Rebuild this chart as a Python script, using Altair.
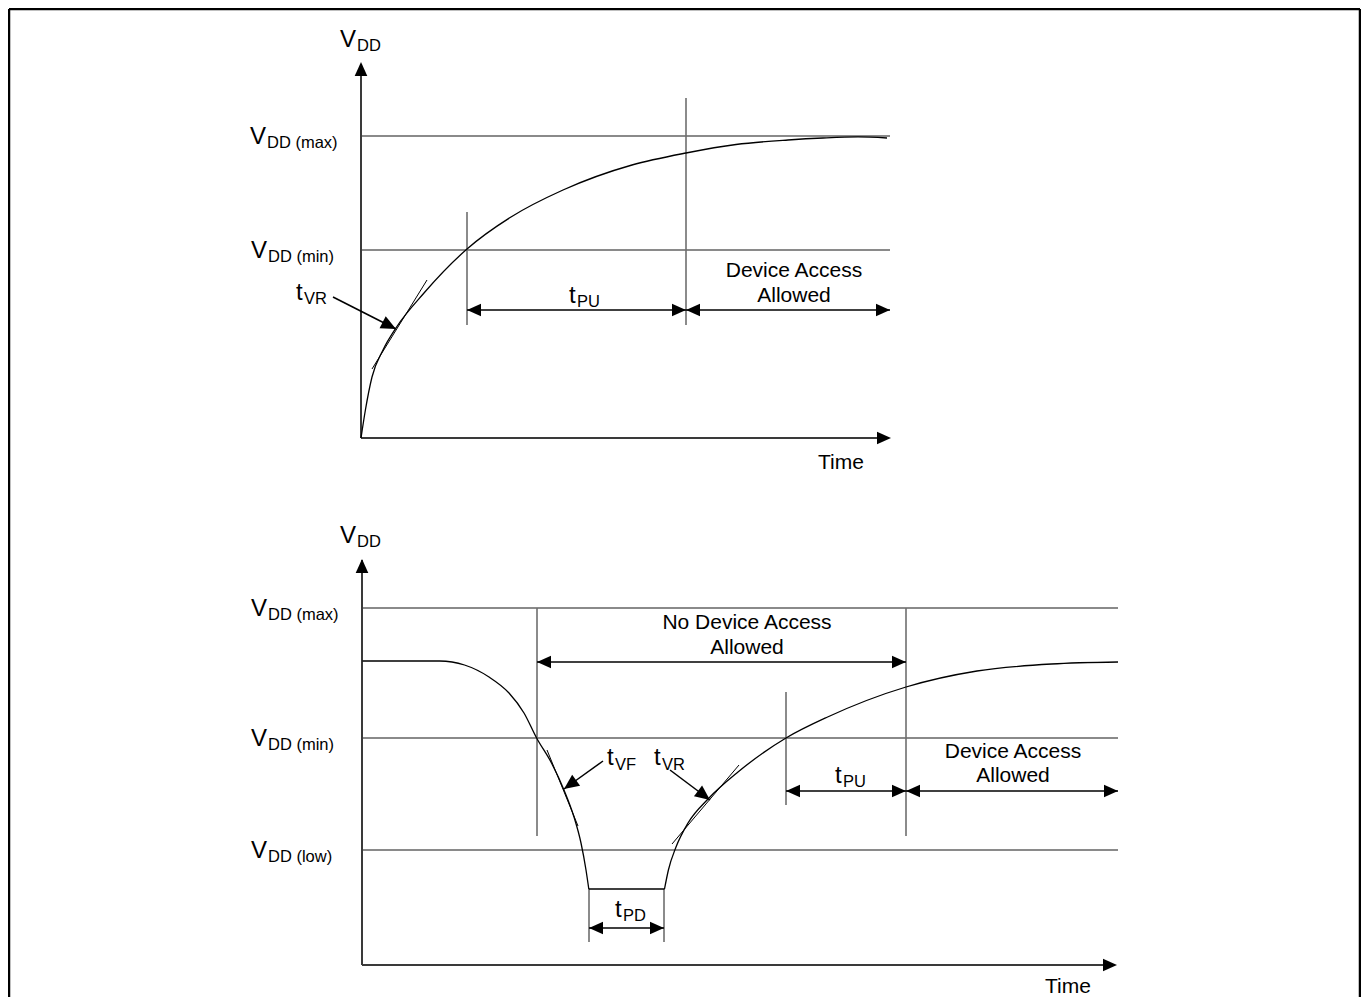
import altair as alt
import pandas as pd

FONT = "Liberation Sans"

# ---------------- data (page-pixel coordinates of the diagram) ----------------
# Top panel power-up curve
top_curve_x = [361, 365.4, 372, 383, 396.6, 424, 467, 511, 563, 632, 686, 736, 788, 823, 858, 887]
top_curve_y = [438, 410, 377, 350, 327, 293, 249, 217, 190, 165, 153, 144.5, 140, 138, 136.9, 138]

# Bottom panel: fall, power-down flat, rise
fall_x = [362.5, 439.6, 464.5, 489, 509, 524, 536.6, 551.5, 564, 574, 581, 586, 588.8]
fall_y = [661, 661, 665, 677, 693, 713, 738, 763, 790, 817, 843, 870, 889]
flat_x = [588.8, 664.5]
flat_y = [889, 889]
rise_x = [664.5, 668.4, 676, 688, 709, 738, 786, 827.6, 906, 977, 1051.5, 1118]
rise_y = [889, 870, 847, 823, 798, 772, 738, 717, 687, 671, 664, 662]

# Level lines (VDD max/min/low)
level_x1 = [361, 361, 362, 362, 362]
level_x2 = [890, 890, 1118, 1118, 1118]
level_y = [136, 250, 608, 738, 850]

# Axis lines
axis_x1 = [361, 361, 362, 362]
axis_y1 = [64, 438, 560, 965]
axis_x2 = [361, 885, 362, 1112]
axis_y2 = [438, 438, 965, 965]

# Vertical marker lines
vert_x = [467, 686, 537, 906, 786, 589, 664]
vert_y1 = [212, 98, 608, 608, 692, 889, 889]
vert_y2 = [325, 325, 836, 836, 805, 942, 942]

# Dimension / pointer arrow shafts
arr_x1 = [467, 686, 333, 537, 786, 906, 589, 603, 670]
arr_y1 = [310, 310, 297, 662, 791, 791, 928, 761, 770]
arr_x2 = [686, 890, 396, 906, 906, 1118, 664, 564, 710]
arr_y2 = [310, 310, 329, 662, 791, 791, 928, 789, 800]

# Tangent lines (slew rate)
tan_x1 = [372, 547, 672]
tan_y1 = [369, 750, 844]
tan_x2 = [427, 578, 739]
tan_y2 = [280, 826, 765]

# Arrowheads: tip position and direction angle (deg, clockwise from +x)
head_x = [361, 891, 362, 1117,
          467, 686, 686, 890,
          537, 906, 786, 906, 906, 1118, 589, 664]
head_y = [62, 438, 559, 965,
          310, 310, 310, 310,
          662, 662, 791, 791, 791, 791, 928, 928]
head_angle = [270, 0, 270, 0,
              180, 0, 180, 0,
              180, 0, 180, 0, 180, 0, 180, 0]
diag_head_x = [396, 564, 710]
diag_head_y = [329, 789, 800]
diag_head_angle = [27, 144, 37]

# Text: main letters
main_text = ["V", "V", "V", "t", "t", "V", "V", "V", "V", "t", "t", "t", "t"]
main_x = [340, 250, 251, 296, 569, 340, 251, 251, 251, 607, 654, 835, 615]
main_y = [47, 144, 258, 300, 303, 543, 616, 746, 858, 765, 765, 783, 917]
# Text: subscripts
sub_text = ["DD", "DD (max)", "DD (min)", "VR", "PU", "DD", "DD (max)", "DD (min)",
            "DD (low)", "VF", "VR", "PU", "PD"]
sub_x = [357, 267, 268, 304, 577, 357, 268, 268, 268, 615, 662, 843, 623]
sub_y = [51, 148, 262, 304, 307, 547, 620, 750, 862, 770, 770, 787, 921]
# Text: centred captions
cap_text = ["Device Access", "Allowed", "Time", "No Device Access", "Allowed",
            "Device Access", "Allowed", "Time"]
cap_x = [794, 794, 841, 747, 747, 1013, 1013, 1068]
cap_y = [277, 302, 469, 629, 654, 758, 782, 993]

# Frame (outer border)
frame_x1 = [9, 9, 1360]
frame_y1 = [9, 9, 9]
frame_x2 = [9, 1360, 1360]
frame_y2 = [997, 9, 997]

# ---------------- chart ----------------
W, H = 1353, 989
xs = alt.Scale(domain=[8, 8 + W], nice=False, zero=False)
ys = alt.Scale(domain=[8, 8 + H], nice=False, zero=False, reverse=True)


def seg_layer(x1, y1, x2, y2, color, width):
    df = pd.DataFrame({"x": x1, "y": y1, "x2": x2, "y2": y2})
    return alt.Chart(df).mark_rule(color=color, strokeWidth=width).encode(
        x=alt.X("x:Q", scale=xs, axis=None),
        y=alt.Y("y:Q", scale=ys, axis=None),
        x2="x2:Q",
        y2="y2:Q",
    )


frame = seg_layer(frame_x1, frame_y1, frame_x2, frame_y2, "#000000", 2.5)
levels = seg_layer(level_x1, level_y, level_x2, level_y, "#8a8a8a", 2)
axes = seg_layer(axis_x1, axis_y1, axis_x2, axis_y2, "#3a3a3a", 2)
verts = seg_layer(vert_x, vert_y1, vert_x, vert_y2, "#6e6e6e", 1.6)
arrows = seg_layer(arr_x1, arr_y1, arr_x2, arr_y2, "#000000", 1.5)
tangents = seg_layer(tan_x1, tan_y1, tan_x2, tan_y2, "#000000", 1)

curve_rows = []
for i, (xv, yv) in enumerate(zip(top_curve_x, top_curve_y)):
    curve_rows.append({"seg": "top", "o": i, "x": xv, "y": yv})
for i, (xv, yv) in enumerate(zip(fall_x, fall_y)):
    curve_rows.append({"seg": "fall", "o": i, "x": xv, "y": yv})
for i, (xv, yv) in enumerate(zip(flat_x, flat_y)):
    curve_rows.append({"seg": "flat", "o": i, "x": xv, "y": yv})
for i, (xv, yv) in enumerate(zip(rise_x, rise_y)):
    curve_rows.append({"seg": "rise", "o": i, "x": xv, "y": yv})
curves = alt.Chart(pd.DataFrame(curve_rows)).mark_line(
    color="#000000", strokeWidth=1.3, interpolate="monotone"
).encode(
    x=alt.X("x:Q", scale=xs, axis=None),
    y=alt.Y("y:Q", scale=ys, axis=None),
    detail="seg:N",
    order="o:Q",
)

HEAD = "M0,0L-2,-0.9L-2,0.9Z"


def head_layer(hx, hy, ha, size):
    df = pd.DataFrame({"x": hx, "y": hy, "a": ha})
    return alt.Chart(df).mark_point(
        shape=HEAD, filled=True, size=size, color="#000000", opacity=1, strokeWidth=0
    ).encode(
        x=alt.X("x:Q", scale=xs, axis=None),
        y=alt.Y("y:Q", scale=ys, axis=None),
        angle=alt.Angle("a:Q", scale=None),
    )


heads = head_layer(head_x, head_y, head_angle, 196)
diag_heads = head_layer(diag_head_x, diag_head_y, diag_head_angle, 225)


def text_layer(t, tx, ty, size, align):
    df = pd.DataFrame({"t": t, "x": tx, "y": ty})
    return alt.Chart(df).mark_text(
        align=align, baseline="alphabetic", fontSize=size, font=FONT, color="#000000"
    ).encode(
        x=alt.X("x:Q", scale=xs, axis=None),
        y=alt.Y("y:Q", scale=ys, axis=None),
        text="t:N",
    )


main_txt = text_layer(main_text, main_x, main_y, 24, "left")
sub_txt = text_layer(sub_text, sub_x, sub_y, 16.5, "left")
cap_txt = text_layer(cap_text, cap_x, cap_y, 21, "center")

chart = alt.layer(
    frame, levels, axes, verts, tangents, curves, arrows, heads, diag_heads,
    main_txt, sub_txt, cap_txt,
).properties(
    width=W, height=H, padding=0,
    autosize=alt.AutoSizeParams(type="none"),
    background="white",
).configure_view(stroke="transparent")

chart.save("out.html", embed_options={"renderer": "svg", "actions": False})
